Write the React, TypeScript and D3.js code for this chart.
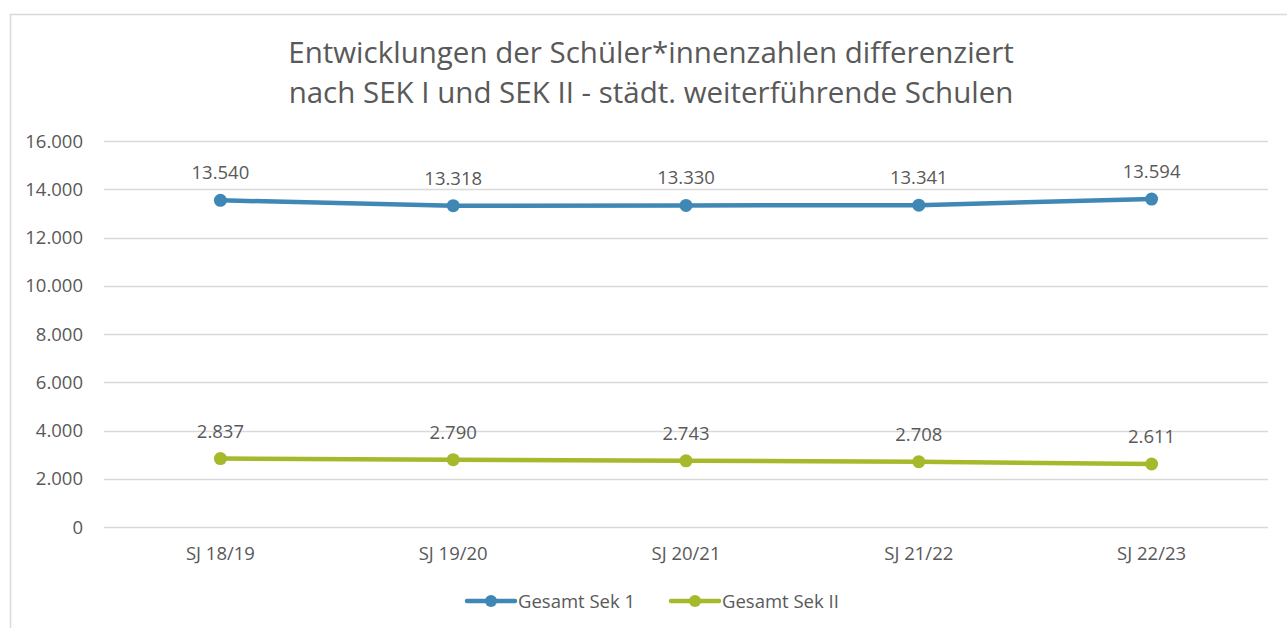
import React, { useEffect, useRef } from 'react';
import * as d3 from 'd3';

const categories = ['SJ 18/19', 'SJ 19/20', 'SJ 20/21', 'SJ 21/22', 'SJ 22/23'];
const sek1 = [13540, 13318, 13330, 13341, 13594];
const sek2 = [2837, 2790, 2743, 2708, 2611];
const yTicks = [0, 2000, 4000, 6000, 8000, 10000, 12000, 14000, 16000];
const seriesNames = ['Gesamt Sek 1', 'Gesamt Sek II'];
const seriesColors = ['#3f88b5', '#a5b92a'];
const titleLines = [
  'Entwicklungen der Schüler*innenzahlen differenziert',
  'nach SEK I und SEK II - städt. weiterführende Schulen',
];

const fmt = (v: number) => d3.format(',')(v).replace(/,/g, '.');

const App = () => {
  const svgRef = useRef<SVGSVGElement>(null);

  useEffect(() => {
    const width = 1287;
    const height = 628;
    const font = '"Open Sans", sans-serif';
    const textColor = '#595959';
    const fs = '18.5px';

    const svg = d3.select(svgRef.current).attr('width', width).attr('height', height);
    svg.selectAll('*').remove();

    // chart frame
    svg.append('rect')
      .attr('x', 10.5).attr('y', 14.5)
      .attr('width', 1290).attr('height', 640)
      .attr('fill', '#fff').attr('stroke', '#d9d9d9').attr('stroke-width', 1.5);

    // title
    svg.append('g').selectAll('text')
      .data(titleLines)
      .enter()
      .append('text')
      .attr('x', 651)
      .attr('y', (d, i) => 63 + i * 40)
      .attr('text-anchor', 'middle')
      .attr('font-family', font)
      .attr('font-size', '29.5px')
      .attr('fill', textColor)
      .text(d => d);

    const x = d3.scaleBand().domain(categories).range([104, 1268]);
    const y = d3.scaleLinear().domain([0, 16000]).range([527, 141]);

    // gridlines
    svg.append('g').selectAll('line')
      .data(yTicks)
      .enter()
      .append('line')
      .attr('x1', 104).attr('x2', 1268)
      .attr('y1', d => Math.round(y(d)) + 0.5)
      .attr('y2', d => Math.round(y(d)) + 0.5)
      .attr('stroke', '#d9d9d9').attr('stroke-width', 1.5);

    // y tick labels
    svg.append('g').selectAll('text')
      .data(yTicks)
      .enter()
      .append('text')
      .attr('x', 83)
      .attr('y', d => y(d) + 6.5)
      .attr('text-anchor', 'end')
      .attr('font-family', font)
      .attr('font-size', fs)
      .attr('fill', textColor)
      .text(d => fmt(d));

    // x labels
    svg.append('g').selectAll('text')
      .data(categories)
      .enter()
      .append('text')
      .attr('x', d => x(d)! + x.bandwidth() / 2)
      .attr('y', 560)
      .attr('text-anchor', 'middle')
      .attr('font-family', font)
      .attr('font-size', fs)
      .attr('fill', textColor)
      .text(d => d);

    const cx = (i: number) => x(categories[i])! + x.bandwidth() / 2;
    const line = d3.line<number>().x((d, i) => cx(i)).y(d => y(d));

    [sek1, sek2].forEach((series, si) => {
      const g = svg.append('g');
      g.append('path')
        .datum(series)
        .attr('d', line)
        .attr('fill', 'none')
        .attr('stroke', seriesColors[si])
        .attr('stroke-width', 4.5)
        .attr('stroke-linejoin', 'round')
        .attr('stroke-linecap', 'round');
      g.selectAll('circle')
        .data(series)
        .enter()
        .append('circle')
        .attr('cx', (d, i) => cx(i))
        .attr('cy', d => y(d))
        .attr('r', 6.5)
        .attr('fill', seriesColors[si]);
      g.selectAll('text')
        .data(series)
        .enter()
        .append('text')
        .attr('x', (d, i) => cx(i))
        .attr('y', d => y(d) - 21)
        .attr('text-anchor', 'middle')
        .attr('font-family', font)
        .attr('font-size', fs)
        .attr('fill', textColor)
        .text(d => fmt(d));
    });

    // legend
    const legendX = [466, 670];
    seriesNames.forEach((name, i) => {
      const g = svg.append('g').attr('transform', `translate(${legendX[i]},601)`);
      g.append('line')
        .attr('x1', 1).attr('x2', 49)
        .attr('stroke', seriesColors[i])
        .attr('stroke-width', 4.5)
        .attr('stroke-linecap', 'round');
      g.append('circle').attr('cx', 25).attr('r', 6).attr('fill', seriesColors[i]);
      g.append('text')
        .attr('x', 52)
        .attr('y', 6.5)
        .attr('font-family', font)
        .attr('font-size', fs)
        .attr('fill', textColor)
        .text(name);
    });
  }, []);

  return (
    <div style={{ position: 'absolute', left: 0, top: 0, width: 1287, height: 628, overflow: 'hidden', background: '#fff' }}>
      <svg ref={svgRef} style={{ display: 'block' }}></svg>
    </div>
  );
};

export default App;
